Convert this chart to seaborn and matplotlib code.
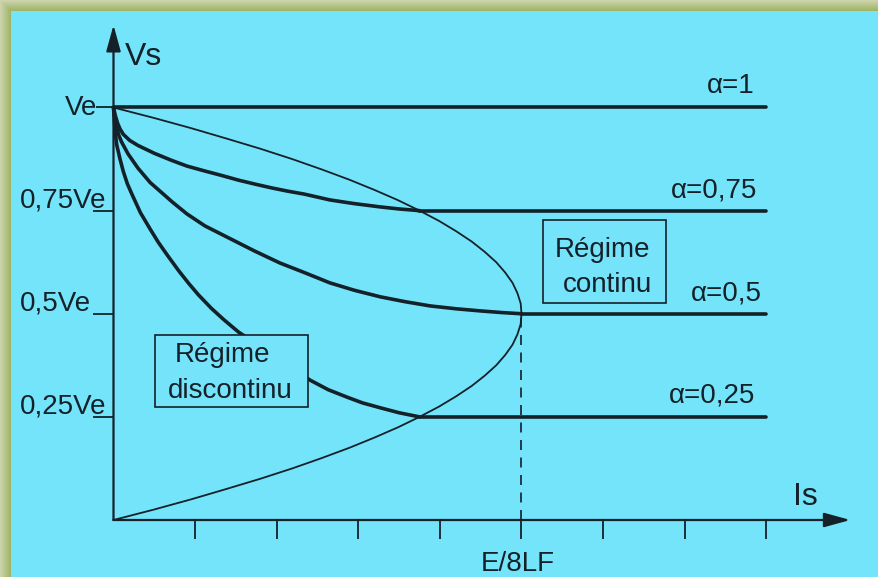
import numpy as np
import matplotlib
matplotlib.use("Agg")
import matplotlib.pyplot as plt
from matplotlib.patches import Rectangle
import seaborn as sns

plt.rcParams["font.family"] = ["Liberation Sans", "DejaVu Sans"]

# ---- data (Is in ticks of E/8LF / 5, Vs as a fraction of Ve) ----
alpha_labels = ["α=1", "α=0,75", "α=0,5", "α=0,25"]
alpha_levels = [1.0, 0.75, 0.5, 0.25]
cont_start = [0.0, 3.75, 5.0, 3.75]          # where the continuous regime begins
is_end = 8.0
x_ticks = [1, 2, 3, 4, 5, 6, 7, 8]
y_tick_labels = ["Ve", "0,75Ve", "0,5Ve", "0,25Ve"]

# discontinuous-regime curves
dcm_075_x = [0.0, 0.02, 0.05, 0.08, 0.12, 0.20, 0.30, 0.50, 0.71, 0.90, 1.12, 1.33, 1.53,
             1.74, 1.94, 2.14, 2.34, 2.65, 2.95, 3.27, 3.50, 3.75]
dcm_075_y = [1.0, 0.982, 0.962, 0.948, 0.935, 0.920, 0.908, 0.889, 0.872, 0.858, 0.846, 0.835, 0.824,
             0.814, 0.805, 0.797, 0.790, 0.776, 0.767, 0.759, 0.754, 0.75]

dcm_05_x = [0.0, 0.02, 0.04, 0.07, 0.10, 0.18, 0.30, 0.45, 0.60, 0.72, 0.90, 1.12, 1.40, 1.73,
            2.04, 2.35, 2.65, 2.95, 3.27, 3.58, 3.88, 4.20, 4.49, 4.75, 5.0]
dcm_05_y = [1.0, 0.972, 0.950, 0.930, 0.916, 0.887, 0.853, 0.818, 0.792, 0.771, 0.742, 0.713, 0.685, 0.652,
            0.623, 0.599, 0.575, 0.557, 0.541, 0.529, 0.519, 0.512, 0.507, 0.503, 0.5]

dcm_025_x = [0.0, 0.01, 0.02, 0.04, 0.08, 0.12, 0.17, 0.23, 0.33, 0.45, 0.55, 0.66, 0.80, 0.92,
             1.04, 1.20, 1.35, 1.53, 2.41, 2.63, 2.86, 3.05, 3.27, 3.50, 3.75]
dcm_025_y = [1.0, 0.970, 0.940, 0.909, 0.875, 0.845, 0.815, 0.788, 0.745, 0.705, 0.673, 0.642, 0.604, 0.574,
             0.546, 0.513, 0.486, 0.456, 0.339, 0.316, 0.298, 0.284, 0.272, 0.260, 0.25]

# boundary between the two regimes
bound_x = [0.0, 0.49, 0.95, 1.38, 1.80, 2.19, 2.55, 2.89, 3.20, 3.49, 3.75, 3.99, 4.20, 4.39, 4.55,
           4.69, 4.80, 4.89, 4.95, 4.99, 5.0, 4.99, 4.95, 4.89, 4.80, 4.69, 4.55, 4.39, 4.20, 3.99,
           3.75, 3.49, 3.20, 2.89, 2.55, 2.19, 1.80, 1.38, 0.95, 0.49, 0.0]
bound_y = [0.0, 0.025, 0.05, 0.075, 0.10, 0.125, 0.15, 0.175, 0.20, 0.225, 0.25, 0.275, 0.30, 0.325, 0.35,
           0.375, 0.40, 0.425, 0.45, 0.475, 0.5, 0.525, 0.55, 0.575, 0.60, 0.625, 0.65, 0.675, 0.70, 0.725,
           0.75, 0.775, 0.80, 0.825, 0.85, 0.875, 0.90, 0.925, 0.95, 0.975, 1.0]

INK = "#142129"
CYAN = "#75e4fb"
W, H = 879, 577

fig = plt.figure(figsize=(W / 100, H / 100), dpi=100)

# background: cyan panel with an olive frame along the top and left edges
bg = np.empty((H, W, 3))
bg[:] = matplotlib.colors.to_rgb(CYAN)
outer = np.array(matplotlib.colors.to_rgb("#cdd4ae"))
inner = np.array(matplotlib.colors.to_rgb("#a0b565"))
band = 11
for i in range(band):
    t = i / (band - 1)
    c = outer * (1 - t) + inner * t
    bg[i, i:, :] = c
    bg[i:, i, :] = c
bg_ax = fig.add_axes([0, 0, 1, 1], zorder=-1)
bg_ax.imshow(bg, aspect="auto", interpolation="bilinear")
bg_ax.axis("off")

ax = fig.add_axes([0, 0, 1, 1])
ax.patch.set_alpha(0)
x0_px, y0_px, sx, sy = 113.5, 520.0, 81.6, 412.5
ax.set_xlim(-x0_px / sx, (W - x0_px) / sx)
ax.set_ylim((y0_px - H) / sy, y0_px / sy)
ax.axis("off")

# axes with arrows
arrow = dict(arrowstyle="-|>,head_length=0.8,head_width=0.22", mutation_scale=20,
             color=INK, lw=1.6, shrinkA=0, shrinkB=0)
ax.annotate("", xy=(9.03, 0), xytext=(0, 0), arrowprops=arrow)
ax.annotate("", xy=(0, 1.2), xytext=(0, 0), arrowprops=arrow)
ax.vlines(x_ticks, -0.046, 0, color=INK, lw=1.3)

# y ticks and labels
for lvl, lab in zip(alpha_levels, y_tick_labels):
    if lvl == 1.0:
        ax.hlines(lvl, -0.21, 0, color=INK, lw=1.3)
        ax.text(-0.20, lvl - 0.018, lab, ha="right", va="baseline", fontsize=20, color=INK)
    else:
        ax.hlines(lvl, -0.25, 0, color=INK, lw=1.3)
        ax.text(-1.15, lvl + 0.007, lab, ha="left", va="baseline", fontsize=20, color=INK)

# regime boundary
sns.lineplot(x=bound_x, y=bound_y, sort=False, estimator=None, ax=ax, color=INK, lw=1.3,
             solid_joinstyle="round")

# discontinuous curves
for cx, cy in [(dcm_075_x, dcm_075_y), (dcm_05_x, dcm_05_y), (dcm_025_x, dcm_025_y)]:
    sns.lineplot(x=cx, y=cy, sort=False, estimator=None, ax=ax, color=INK, lw=2.6,
                 solid_capstyle="round", solid_joinstyle="round")

# continuous regime: horizontal lines
for lvl, xs in zip(alpha_levels, cont_start):
    sns.lineplot(x=[xs, is_end], y=[lvl, lvl], sort=False, estimator=None, ax=ax,
                 color=INK, lw=2.6, solid_capstyle="round")

# dashed marker at the boundary maximum
peak = max(bound_x)
ax.vlines(peak, 0, 0.5, color=INK, lw=1.2, linestyles=(0, (6, 4.5)))

# alpha labels
alpha_pos = [(7.86, 1.035), (7.89, 0.783), (7.95, 0.533), (7.87, 0.286)]
for (tx, ty), lab in zip(alpha_pos, alpha_labels):
    ax.text(tx, ty, lab, ha="right", va="baseline", fontsize=20, color=INK)

# regime boxes
ax.add_patch(Rectangle((5.26, 0.526), 1.51, 0.201, facecolor=CYAN, edgecolor=INK, lw=1.2, zorder=5))
ax.text(5.99, 0.638, "Régime", ha="center", va="baseline", fontsize=20, color=INK, zorder=6)
ax.text(6.05, 0.553, "continu", ha="center", va="baseline", fontsize=20, color=INK, zorder=6)

ax.add_patch(Rectangle((0.51, 0.274), 1.87, 0.174, facecolor=CYAN, edgecolor=INK, lw=1.2, zorder=5))
ax.text(1.33, 0.383, "Régime", ha="center", va="baseline", fontsize=20, color=INK, zorder=6)
ax.text(1.43, 0.296, "discontinu", ha="center", va="baseline", fontsize=20, color=INK, zorder=6)

# axis titles
ax.text(0.14, 1.103, "Vs", ha="left", va="baseline", fontsize=23, color=INK)
ax.text(8.33, 0.036, "Is", ha="left", va="baseline", fontsize=23, color=INK)
ax.text(peak - 0.04, -0.124, "E/8LF", ha="center", va="baseline", fontsize=20, color=INK)

fig.savefig("out.png", dpi=100)
